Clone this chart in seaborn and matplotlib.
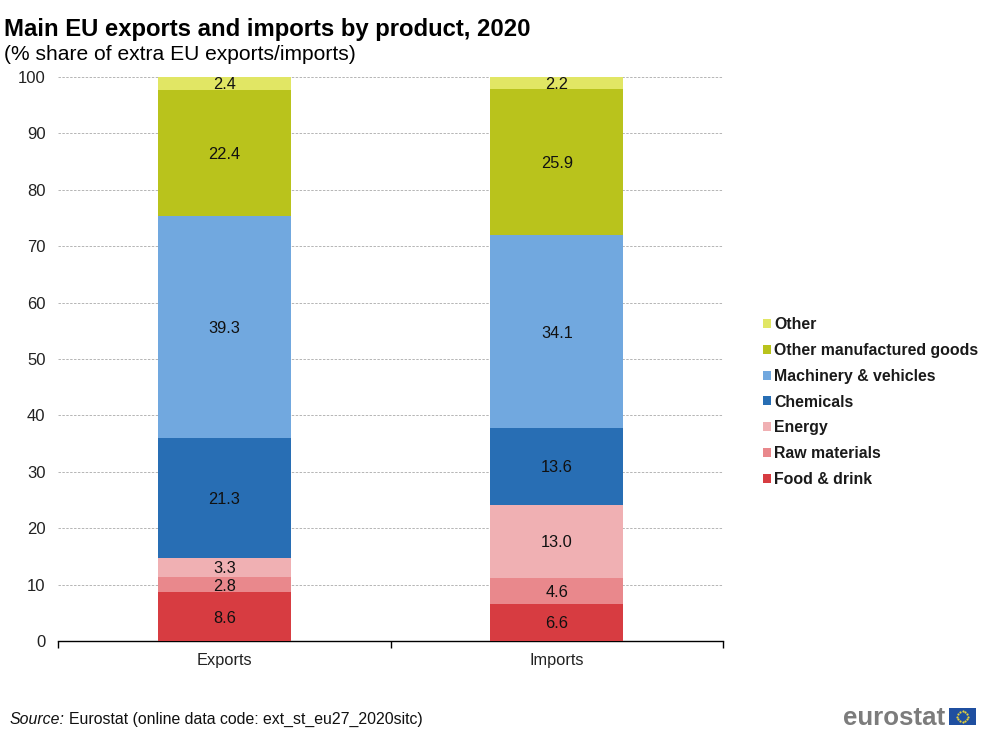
import numpy as np
import pandas as pd
import matplotlib
matplotlib.use("Agg")
import matplotlib.pyplot as plt
from matplotlib.patches import Patch, Rectangle
import seaborn as sns

categories = ["Exports", "Imports"]
food = [8.6, 6.6]
raw = [2.8, 4.6]
energy = [3.3, 13.0]
chemicals = [21.3, 13.6]
machinery = [39.3, 34.1]
manufactured = [22.4, 25.9]
other = [2.4, 2.2]
series_names = ["Food & drink", "Raw materials", "Energy", "Chemicals",
                "Machinery & vehicles", "Other manufactured goods", "Other"]
series_values = [food, raw, energy, chemicals, machinery, manufactured, other]
colors = ["#D73C41", "#E9888C", "#F0B0B3", "#286EB4", "#71A8DF", "#B9C31C", "#E1E664"]
yticks = [0, 10, 20, 30, 40, 50, 60, 70, 80, 90, 100]

sns.set_theme(style="white")
plt.rcParams["font.family"] = ["Liberation Sans", "DejaVu Sans"]

W, H = 993, 736
fig = plt.figure(figsize=(W / 100, H / 100), dpi=100, facecolor="white")
ax = fig.add_axes([58 / W, 1 - 641 / H, 665 / W, 564 / H])

bottom = np.zeros(len(categories))
for name, vals, col in zip(series_names, series_values, colors):
    df = pd.DataFrame({"cat": categories, "val": vals})
    n0 = len(ax.containers)
    sns.barplot(data=df, x="cat", y="val", color=col, saturation=1, width=0.4,
                bottom=bottom, ax=ax, linewidth=0, errorbar=None, zorder=3)
    anns = ax.bar_label(ax.containers[n0], labels=[f"{v:.1f}" for v in vals], label_type="center",
                        fontsize=11.8, color="#111111", zorder=5)
    for t in anns:
        t.set_va("center_baseline")
    bottom = bottom + np.array(vals)

ax.set_xlim(-0.5, 1.5)
ax.set_ylim(0, 100)
ax.set_xlabel("")
ax.set_ylabel("")
ax.set_yticks(yticks)
ax.set_yticklabels([str(t) for t in yticks], fontsize=12, color="#222222")
ax.tick_params(axis="y", length=0, pad=9)
ax.set_xticks([0, 1])
ax.set_xticklabels(categories, fontsize=11.8, color="#222222")
ax.set_xticks([-0.5, 0.5, 1.5], minor=True)
ax.tick_params(axis="x", which="major", length=0, pad=8.5)
ax.tick_params(axis="x", which="minor", length=5, width=1, color="black", bottom=True)
ax.grid(axis="y", color="#B5B5B5", linestyle=(0, (2.5, 1.5)), linewidth=0.7, zorder=0)
ax.set_axisbelow(True)
for s in ["top", "left", "right"]:
    ax.spines[s].set_visible(False)
ax.spines["bottom"].set_color("black")
ax.spines["bottom"].set_linewidth(1.0)

handles = [Patch(facecolor=c, edgecolor="none", label=n) for n, c in zip(series_names, colors)][::-1]
fig.legend(handles=handles, loc="center left", bbox_to_anchor=(763 / W, 1 - 402 / H), frameon=False,
           prop={"family": "Liberation Sans", "weight": "bold", "size": 11.4},
           handlelength=0.5, handleheight=0.5, handletextpad=0.2, labelspacing=0.68,
           labelcolor="#1a1a1a", borderpad=0, borderaxespad=0)

fig.text(4 / W, 1 - 36 / H, "Main EU exports and imports by product, 2020", fontsize=17.2,
         fontweight="bold", color="black", va="baseline", ha="left")
fig.text(4 / W, 1 - 60 / H, "(% share of extra EU exports/imports)", fontsize=15.1,
         color="black", va="baseline", ha="left")
fig.text(10 / W, 1 - 724 / H, "Source:", fontsize=11.4, style="italic", color="#111111",
         va="baseline", ha="left")
fig.text(69 / W, 1 - 724 / H, "Eurostat (online data code: ext_st_eu27_2020sitc)", fontsize=11.4,
         color="#111111", va="baseline", ha="left")
fig.text(945 / W, 1 - 725 / H, "eurostat", fontsize=18.6, fontweight="bold", color="#7C7C7C",
         va="baseline", ha="right")

flag = fig.add_axes([949 / W, 1 - 725 / H, 27 / W, 17 / H])
flag.set_xlim(0, 27)
flag.set_ylim(0, 17)
flag.axis("off")
flag.add_patch(Rectangle((0, 0), 27, 17, facecolor="#1F4FA0", edgecolor="none"))
ang = np.deg2rad(np.arange(0, 360, 30))
flag.scatter(13.5 + 5.3 * np.cos(ang), 8.5 + 5.3 * np.sin(ang), s=2.5, c="#E8D23A", linewidths=0)

fig.savefig("out.png", dpi=100, facecolor="white")
